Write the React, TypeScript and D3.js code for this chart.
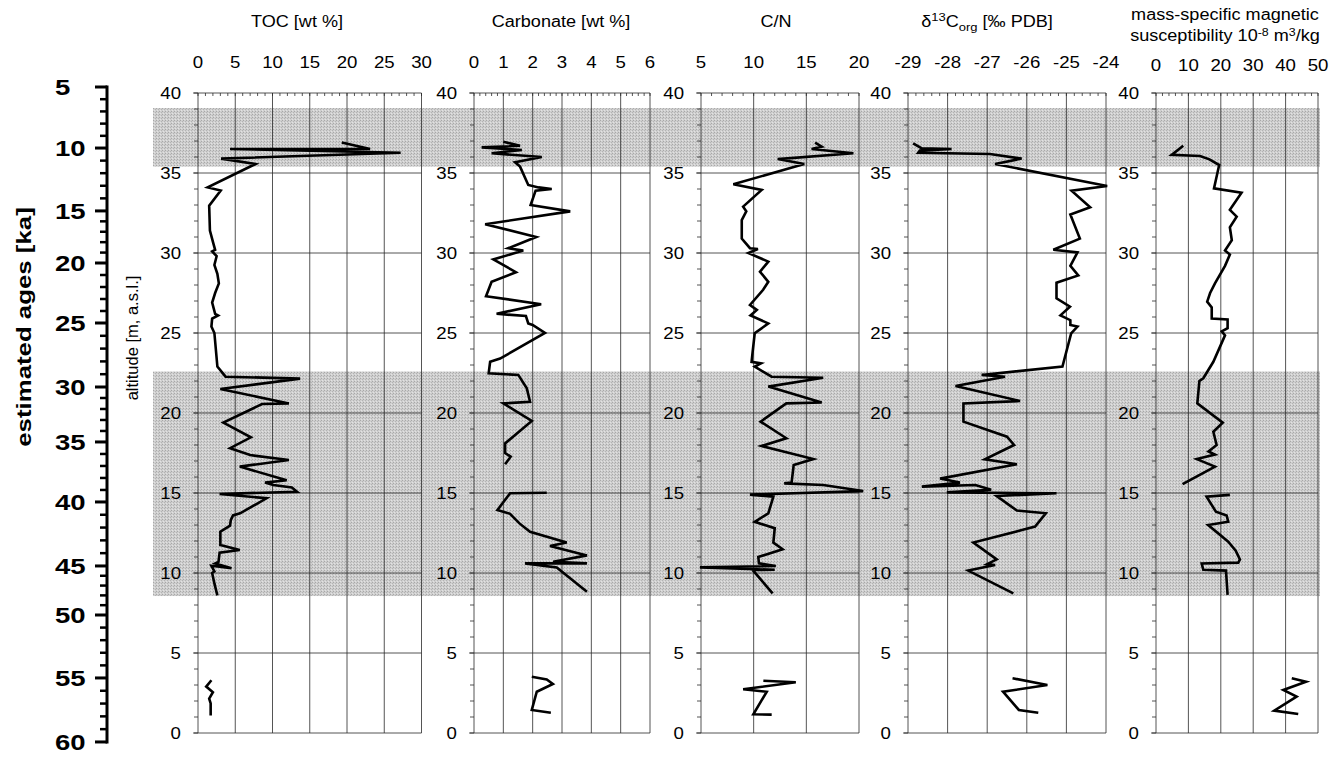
import React from "react";
import * as d3 from "d3";

// ---------------- data ----------------
// age-depth model: estimated age [ka] at altitude [m a.s.l.]
const ageTicks = [5, 10, 15, 20, 25, 30, 35, 40, 45, 50, 55, 60];
const ageAltitude = [40.375, 36.56, 32.63, 29.375, 25.625, 21.625, 18.19, 14.44, 10.44, 7.375, 3.44, -0.56];

// shaded intervals [bottom altitude, top altitude]
const shadedBands: [number, number][] = [
  [35.4, 39.06],
  [8.56, 22.6],
];

const altitudeTicks = [0, 5, 10, 15, 20, 25, 30, 35, 40];

type Pt = [number, number] | null; // [altitude m, value]

const tocData: Pt[] = [
  [36.9, 19.3], [36.5, 23.1], [36.5, 4.3], [36.27, 27.2], [35.9, 3.1], [35.56, 7.7], [34.1, 1.3], [33.9, 3.05],
  [32.96, 1.5], [31.4, 1.6], [30.6, 2.06], [30.2, 2.3], [30.1, 1.9], [29.8, 2.5], [29.25, 2.2], [28.7, 2.6],
  [28.1, 2.8], [27.5, 2.3], [26.9, 1.9], [26.2, 2.3], [26.1, 2.7], [25.9, 1.9], [25.4, 1.8], [25.0, 2.2],
  [22.9, 2.6], [22.27, 3.7], [22.15, 13.7], [21.5, 3.0], [20.6, 12.2], [20.56, 8.6], [19.4, 3.4], [18.48, 7.1],
  [17.8, 4.3], [17.37, 7.0], [17.06, 12.2], [16.65, 5.6], [15.8, 11.9], [15.65, 9.0], [15.5, 10.1], [15.35, 12.6],
  [15.08, 13.3], [14.94, 2.9], [14.67, 9.2], [13.73, 5.65], [13.6, 4.7], [13.3, 4.4], [12.96, 4.3], [12.58, 3.0],
  [11.75, 3.0], [11.44, 5.6], [11.27, 2.9], [10.7, 2.75], [10.6, 2.3], [10.3, 4.5], [10.45, 1.8], [10.1, 2.2],
  [10.0, 1.9], [9.35, 2.2], [8.6, 2.6],
  null,
  [3.3, 1.8], [2.9, 1.1], [2.55, 2.0], [2.15, 1.5], [1.85, 1.7], [1.1, 1.7],
];

const carbonateData: Pt[] = [
  [36.96, 1.0], [36.7, 1.57], [36.6, 0.26], [36.44, 1.63], [36.23, 0.6], [36.0, 2.31], [35.67, 1.4], [35.4, 1.57],
  [34.25, 1.85], [34.1, 2.2], [34.0, 2.65], [33.9, 2.1], [33.0, 1.93], [32.6, 3.28], [31.8, 0.38], [31.0, 2.12],
  [30.3, 1.17], [30.15, 1.68], [29.6, 0.66], [28.8, 1.43], [28.2, 0.6], [27.3, 0.41], [26.8, 2.29], [26.2, 0.77],
  [26.06, 1.77], [25.6, 1.85], [25.5, 2.0], [25.0, 2.42], [23.4, 0.89], [23.2, 0.55], [22.48, 0.5], [22.38, 1.51],
  [21.54, 1.8], [20.7, 1.91], [20.6, 1.0], [19.5, 1.97], [18.1, 1.06], [17.5, 1.06], [17.27, 1.25], [16.8, 1.06],
  null,
  [15.02, 2.48], [14.98, 1.23], [13.94, 0.8], [13.7, 1.23], [13.1, 1.55], [12.58, 1.91], [11.9, 3.16], [11.69, 2.59],
  [11.1, 3.85], [10.7, 2.7], [10.6, 3.85], [10.6, 1.74], [10.35, 2.82], [8.83, 3.85],
  null,
  [3.52, 1.97], [3.35, 2.48], [3.06, 2.69], [2.58, 2.14], [1.44, 1.97], [1.27, 2.62],
];

const cnData: Pt[] = [
  [36.9, 15.83], [36.65, 16.46], [36.5, 15.5], [36.23, 19.47], [35.87, 12.28], [35.56, 14.8], [34.3, 8.07],
  [33.94, 10.76], [32.9, 9.0], [32.6, 9.3], [32.06, 8.87], [30.9, 8.87], [30.3, 9.65], [30.25, 10.4], [30.0, 9.5],
  [29.46, 11.39], [28.83, 10.6], [28.2, 11.39], [27.7, 10.9], [26.75, 9.65], [26.44, 10.3], [26.1, 9.7],
  [25.6, 11.39], [24.98, 10.1], [23.8, 9.9], [23.2, 9.8], [23.1, 10.7], [22.9, 10.1], [22.27, 11.7], [22.2, 16.6],
  [21.65, 11.39], [20.66, 16.46], [20.6, 13.1], [19.46, 10.66], [18.42, 13.1], [17.94, 10.76], [17.12, 15.67],
  [16.75, 13.8], [15.65, 13.6], [15.6, 12.9], [15.5, 16.6], [15.12, 20.4], [14.9, 9.65], [14.77, 11.87],
  [13.73, 11.39], [13.2, 10.1], [12.8, 12.0], [11.9, 11.87], [11.48, 12.75], [11.0, 10.44], [10.6, 10.5],
  [10.44, 12.1], [10.35, 4.9], [10.2, 12.0], [10.19, 9.9], [8.73, 11.8],
  null,
  [3.27, 10.92], [3.17, 14.0], [2.73, 9.0], [2.58, 11.24], [1.17, 9.97], [1.15, 11.71],
];

const d13cData: Pt[] = [
  [36.85, -28.87], [36.54, -28.65], [36.5, -27.9], [36.4, -28.7], [36.27, -28.74], [36.19, -26.93], [35.9, -26.13],
  [35.56, -26.8], [34.19, -23.97], [33.9, -24.87], [32.86, -24.4], [32.4, -24.9], [30.9, -24.66], [30.2, -25.33],
  [30.04, -24.72], [29.2, -24.9], [28.6, -24.7], [28.14, -25.25], [27.17, -25.25], [26.65, -24.91], [26.1, -25.15],
  [25.8, -24.9], [25.5, -24.9], [25.4, -24.72], [24.98, -24.88], [22.9, -25.1], [22.38, -27.14], [22.27, -26.55],
  [21.69, -27.8], [20.75, -26.17], [20.6, -27.6], [19.46, -27.6], [18.52, -26.5], [18.0, -26.32], [17.1, -27.06],
  [16.8, -26.25], [15.9, -28.19], [15.65, -27.69], [15.4, -28.65], [15.5, -27.3], [15.2, -26.9], [15.04, -28.02],
  [14.98, -25.25], [14.81, -26.76], [13.9, -26.25], [13.73, -25.52], [12.9, -25.79], [12.7, -26.1], [11.9, -27.35],
  [10.85, -26.76], [10.55, -27.0], [10.5, -26.8], [10.15, -27.48], [8.73, -26.34],
  null,
  [3.42, -26.36], [3.0, -25.48], [2.58, -26.6], [1.44, -26.2], [1.27, -25.71],
];

const magData: Pt[] = [
  [36.7, 8.4], [36.13, 4.84], [36.06, 13.6], [35.85, 16.5], [35.5, 19.5], [34.04, 17.9], [33.77, 26.4], [32.7, 22.8],
  [32.27, 24.9], [31.6, 22.8], [30.8, 23.4], [30.15, 21.3], [29.9, 22.8], [29.2, 21.3], [28.1, 18.2], [27.5, 16.7],
  [26.96, 15.8], [26.6, 17.2], [25.9, 17.2], [25.85, 22.1], [25.3, 22.1], [25.1, 20.3], [24.85, 21.3], [23.2, 17.7],
  [22.17, 14.6], [22.0, 13.4], [20.6, 12.75], [19.4, 20.6], [18.83, 17.7], [18.0, 18.7], [17.6, 16.2], [17.4, 18.2],
  [17.12, 12.6], [16.65, 18.2], [15.56, 8.2],
  null,
  [14.88, 22.8], [14.77, 15.6], [13.83, 18.5], [13.6, 21.8], [13.2, 22.3], [13.0, 16.1], [11.96, 22.3], [11.4, 24.6],
  [10.85, 25.9], [10.65, 25.4], [10.6, 14.1], [10.2, 14.6], [10.15, 21.6], [8.63, 22.1],
  null,
  [3.42, 41.9], [3.2, 46.3], [2.69, 39.3], [2.27, 43.4], [1.4, 36.5], [1.19, 43.9],
];

const tocTicks = [0, 5, 10, 15, 20, 25, 30];
const carbonateTicks = [0, 1, 2, 3, 4, 5, 6];
const cnTicks = [5, 10, 15, 20];
const d13cTicks = [-29, -28, -27, -26, -25, -24];
const magTicks = [0, 10, 20, 30, 40, 50];

// ---------------- layout ----------------
const W = 1341;
const H = 760;
const FONT = "'Liberation Sans', Arial, Helvetica, sans-serif";
const SX = 1.13; // horizontal stretch of the original lettering

interface Panel {
  key: string;
  data: Pt[];
  ticks: number[];
  minorStep: number;
  x0: number;
  x1: number;
  titleX: number;
  tickY: number;
}

const panels: Panel[] = [
  { key: "toc", data: tocData, ticks: tocTicks, minorStep: 1, x0: 198, x1: 421.5, titleX: 297, tickY: 68 },
  { key: "carb", data: carbonateData, ticks: carbonateTicks, minorStep: 0.2, x0: 474, x1: 650, titleX: 561, tickY: 68 },
  { key: "cn", data: cnData, ticks: cnTicks, minorStep: 1, x0: 701, x1: 859, titleX: 776, tickY: 68 },
  { key: "d13c", data: d13cData, ticks: d13cTicks, minorStep: 0.2, x0: 908, x1: 1106, titleX: 987, tickY: 68 },
  { key: "mag", data: magData, ticks: magTicks, minorStep: 2, x0: 1156, x1: 1318, titleX: 1225, tickY: 71 },
];

const yAlt = d3.scaleLinear().domain([0, 40]).range([733, 93]);
const yAge = d3.scaleLinear().domain(ageTicks).range(ageAltitude.map((a) => yAlt(a)));

function T({
  x,
  y,
  anchor = "middle",
  size = 16,
  dy,
  children,
}: {
  x: number;
  y: number;
  anchor?: "start" | "middle" | "end";
  size?: number;
  dy?: string;
  children: React.ReactNode;
}) {
  return (
    <g transform={`translate(${x},${y}) scale(${SX},1)`}>
      <text x={0} y={0} dy={dy} textAnchor={anchor} fontFamily={FONT} fontSize={size} fill="#000">
        {children}
      </text>
    </g>
  );
}

function Title({ p }: { p: Panel }) {
  if (p.key === "toc") return <T x={p.titleX} y={27}>TOC [wt %]</T>;
  if (p.key === "carb") return <T x={p.titleX} y={27}>Carbonate [wt %]</T>;
  if (p.key === "cn") return <T x={p.titleX} y={27}>C/N</T>;
  if (p.key === "d13c")
    return (
      <T x={p.titleX} y={27}>
        δ<tspan dy={-6} fontSize={11.5}>13</tspan>
        <tspan dy={6}>C</tspan>
        <tspan dy={4} fontSize={11.5}>org</tspan>
        <tspan dy={-4}> [‰ PDB]</tspan>
      </T>
    );
  return (
    <g>
      <T x={p.titleX} y={20}>mass-specific magnetic</T>
      <T x={p.titleX} y={41}>
        susceptibility 10<tspan dy={-5} fontSize={11}>-8</tspan>
        <tspan dy={5}> m</tspan>
        <tspan dy={-5} fontSize={11}>3</tspan>
        <tspan dy={5}>/kg</tspan>
      </T>
    </g>
  );
}

function PanelView({ p }: { p: Panel }) {
  const dom = [p.ticks[0], p.ticks[p.ticks.length - 1]];
  const x = d3.scaleLinear().domain(dom).range([p.x0, p.x1]);
  const line = d3
    .line<Pt>()
    .defined((d) => d !== null)
    .x((d) => x((d as [number, number])[1]))
    .y((d) => yAlt((d as [number, number])[0]));
  const minorX = d3.range(dom[0], dom[1] + 1e-6, p.minorStep);
  const minorY = d3.range(0, 41, 1);
  const gridColor = "#2a2a2a";
  return (
    <g>
      {altitudeTicks.map((a) => (
        <line key={"h" + a} x1={p.x0 - 5} x2={p.x1} y1={yAlt(a)} y2={yAlt(a)} stroke={gridColor} strokeWidth={0.8} />
      ))}
      {p.ticks.map((t) => (
        <line key={"v" + t} x1={x(t)} x2={x(t)} y1={yAlt(40)} y2={yAlt(0)} stroke={gridColor} strokeWidth={0.8} />
      ))}
      {minorX.map((t, i) => (
        <line key={"mt" + i} x1={x(t)} x2={x(t)} y1={yAlt(40)} y2={yAlt(40) + 3} stroke={gridColor} strokeWidth={0.8} />
      ))}
      {minorY.map((a) => (
        <line key={"ml" + a} x1={p.x0 - 4} x2={p.x0} y1={yAlt(a)} y2={yAlt(a)} stroke={gridColor} strokeWidth={0.8} />
      ))}
      {altitudeTicks.map((a) => (
        <T key={"al" + a} x={p.x0 - 17} y={yAlt(a)} dy="0.36em" anchor="end" size={16.5}>
          {a}
        </T>
      ))}
      {p.ticks.map((t) => (
        <T key={"tl" + t} x={x(t)} y={p.tickY} size={16.5}>
          {t}
        </T>
      ))}
      <Title p={p} />
      <path d={line(p.data) || ""} fill="none" stroke="#000" strokeWidth={2.6} strokeLinejoin="miter" strokeMiterlimit={4} />
    </g>
  );
}

export default function App() {
  const ageMinor = d3.range(5, 61, 1).filter((v) => v % 5 !== 0);
  return (
    <svg
      width={W}
      height={H}
      viewBox={`0 0 ${W} ${H}`}
      style={{ position: "absolute", left: 0, top: 0, background: "#fff" }}
    >
      <defs>
        <pattern id="stipple" width={3} height={3} patternUnits="userSpaceOnUse">
          <rect width={3} height={3} fill="#cfcfcf" />
          <rect x={0} y={0} width={1} height={1} fill="#a8a8a8" />
          <rect x={2} y={1} width={1} height={1} fill="#b4b4b4" />
          <rect x={1} y={2} width={1} height={1} fill="#e2e2e2" />
        </pattern>
      </defs>
      <rect x={0} y={0} width={W} height={H} fill="#fff" />
      {shadedBands.map(([lo, hi], i) => (
        <rect key={i} x={153} width={1320 - 153} y={yAlt(hi)} height={yAlt(lo) - yAlt(hi)} fill="url(#stipple)" />
      ))}
      {panels.map((p) => (
        <PanelView key={p.key} p={p} />
      ))}
      {/* age axis */}
      <line x1={107} x2={107} y1={yAge(5) - 1.5} y2={yAge(60) + 1.5} stroke="#000" strokeWidth={3} />
      {ageTicks.map((t) => (
        <line key={"at" + t} x1={95} x2={107} y1={yAge(t)} y2={yAge(t)} stroke="#000" strokeWidth={3} />
      ))}
      {ageMinor.map((t) => (
        <line key={"am" + t} x1={100} x2={107} y1={yAge(t)} y2={yAge(t)} stroke="#000" strokeWidth={2.5} />
      ))}
      {ageTicks.map((t) => (
        <g key={"alb" + t} transform={`translate(55,${yAge(t)}) scale(1.25,1)`}>
          <text x={0} y={0} dy="0.36em" textAnchor="start" fontFamily={FONT} fontWeight="bold" fontSize={22} fill="#000">
            {t}
          </text>
        </g>
      ))}
      <g transform="translate(31,327) rotate(-90) scale(1.23,1)">
        <text x={0} y={0} textAnchor="middle" fontFamily={FONT} fontWeight="bold" fontSize={21} fill="#000">
          estimated ages [ka]
        </text>
      </g>
      <g transform="translate(138,338) rotate(-90)">
        <text x={0} y={0} textAnchor="middle" fontFamily={FONT} fontSize={16.5} fill="#000">
          altitude [m, a.s.l.]
        </text>
      </g>
    </svg>
  );
}
